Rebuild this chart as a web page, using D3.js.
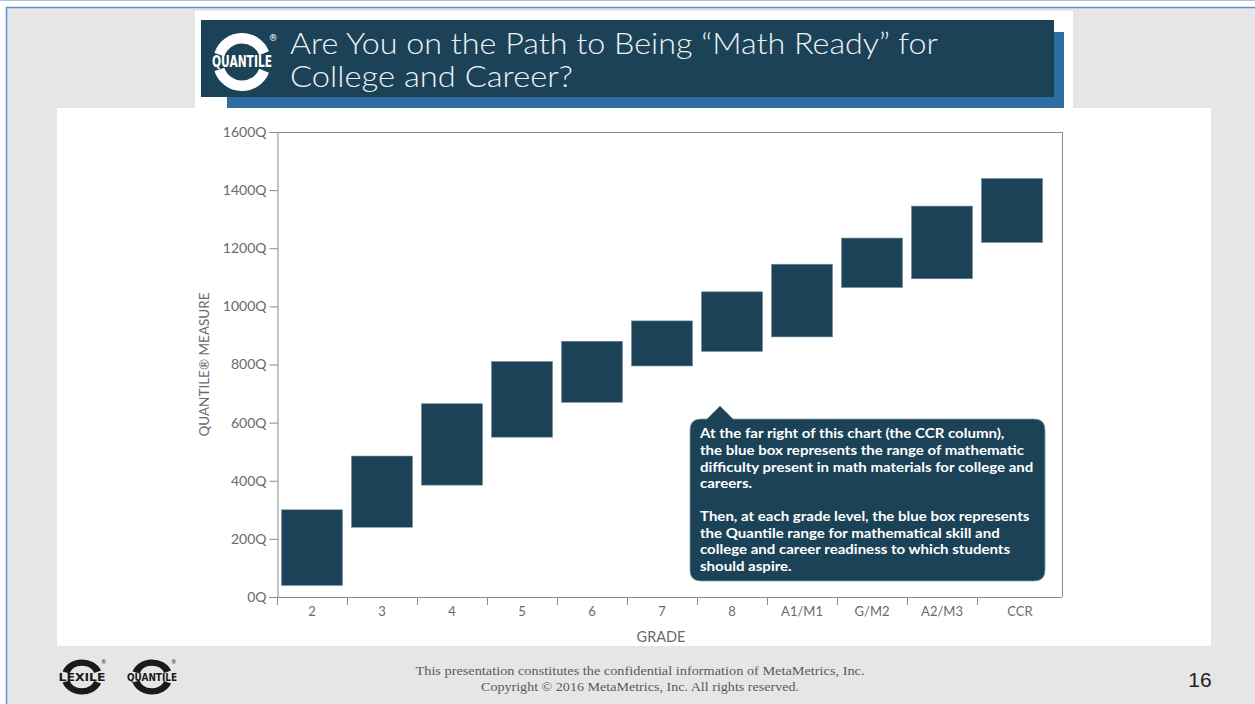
<!DOCTYPE html>
<html>
<head>
<meta charset="utf-8">
<script src="https://cdn.jsdelivr.net/npm/d3@7/dist/d3.min.js"></script>
<style>
  html, body { margin: 0; padding: 0; background: #fff; }
  svg { display: block; }
</style>
</head>
<body>
<svg id="slide" width="1255" height="704"></svg>
<script>
// ---------- data ----------
const grades = ["2", "3", "4", "5", "6", "7", "8", "A1/M1", "G/M2", "A2/M3", "CCR"];
const rangeLow  = [40, 240, 385, 550, 670, 795, 845, 895, 1065, 1095, 1220];
const rangeHigh = [300, 485, 665, 810, 880, 950, 1050, 1145, 1235, 1345, 1440];
const yTicks = [0, 200, 400, 600, 800, 1000, 1200, 1400, 1600];
const titleLines = ["Are You on the Path to Being \u201CMath Ready\u201D for", "College and Career?"];
const yAxisTitle = "QUANTILE\u00AE MEASURE";
const xAxisTitle = "GRADE";
const calloutPara1 = [
  "At the far right of this chart (the CCR column),",
  "the blue box represents the range of mathematic",
  "difficulty present in math materials for college and",
  "careers."
];
const calloutPara2 = [
  "Then, at each grade level, the blue box represents",
  "the Quantile range for mathematical skill and",
  "college and career readiness to which students",
  "should aspire."
];
const footerLines = [
  "This presentation constitutes the confidential information of MetaMetrics, Inc.",
  "Copyright \u00A9 2016 MetaMetrics, Inc. All rights reserved."
];
const slideNumber = "16";

// ---------- styles ----------
const NAVY = "#1b4257";
const BLUE = "#2f6ca1";
const AXIS = "#8a8a8a";
const TXT = "#6a6a6a";

const svg = d3.select("#slide");

// slide background
svg.append("rect").attr("x", 0).attr("y", 0).attr("width", 1255).attr("height", 704).attr("fill", "#ffffff");
svg.append("rect").attr("x", 6.5).attr("y", 7.5).attr("width", 1260).attr("height", 710)
  .attr("fill", "#e6e6e6").attr("stroke", "#5f8fd6").attr("stroke-width", 1.5);
svg.append("line").attr("x1", 0).attr("x2", 1255).attr("y1", 0.5).attr("y2", 0.5)
  .attr("stroke", "#a9c2e8").attr("stroke-width", 1);

// white panels
svg.append("rect").attr("x", 195).attr("y", 11).attr("width", 878).attr("height", 100).attr("fill", "#fff");
svg.append("rect").attr("x", 57).attr("y", 108).attr("width", 1154).attr("height", 538).attr("fill", "#fff");

// header boxes
svg.append("rect").attr("x", 227).attr("y", 32).attr("width", 837).attr("height", 76).attr("fill", BLUE);
svg.append("rect").attr("x", 201).attr("y", 20).attr("width", 853).attr("height", 77).attr("fill", NAVY);

// logo helper
function logo(g, cx, cy, r, sx, color, label, fs, tw) {
  const arcTop = d3.arc().innerRadius(r * 0.64).outerRadius(r).startAngle(-Math.PI * 0.40).endAngle(Math.PI * 0.38);
  const arcBot = d3.arc().innerRadius(r * 0.64).outerRadius(r).startAngle(Math.PI * 0.62).endAngle(Math.PI * 1.40);
  const gg = g.append("g").attr("transform", `translate(${cx},${cy})`);
  const sh = gg.append("g").attr("transform", `scale(${sx},1)`);
  sh.append("path").attr("d", arcTop()).attr("fill", color);
  sh.append("path").attr("d", arcBot()).attr("fill", color);
  gg.append("text").attr("x", 0).attr("y", fs * 0.36).attr("text-anchor", "middle")
    .attr("font-family", "'Liberation Sans Narrow', 'DejaVu Sans Condensed', Roboto, sans-serif")
    .attr("font-weight", 700).attr("font-size", fs).attr("fill", color)
    .attr("textLength", tw).attr("lengthAdjust", "spacingAndGlyphs").text(label);
  gg.append("text").attr("x", r * sx * 0.95).attr("y", -r * 0.72).attr("font-size", r * 0.32)
    .attr("font-family", "Roboto, sans-serif").attr("fill", color).text("\u00AE");
}
logo(svg, 242, 62, 29, 1, "#ffffff", "QUANTILE", 15, 60);

// title
const title = svg.append("text")
  .attr("font-family", "Lato, 'Open Sans', sans-serif").attr("font-weight", 300)
  .attr("font-size", 30).attr("fill", "#eef2f5");
const titleW = [648, 283];
titleLines.forEach((t, i) => {
  title.append("tspan").attr("x", 290).attr("y", 54 + i * 33)
    .attr("textLength", titleW[i]).attr("lengthAdjust", "spacingAndGlyphs").text(t);
});

// ---------- chart ----------
const x0 = 277, x1 = 1062, yTop = 132, yBot = 597;
const x = d3.scaleBand().domain(grades).range([x0, 1047]).paddingInner(0).paddingOuter(0);
const y = d3.scaleLinear().domain([0, 1600]).range([yBot, yTop]);

const chart = svg.append("g");

// frame (top & right)
chart.append("line").attr("x1", x0).attr("x2", x1).attr("y1", yTop + 0.5).attr("y2", yTop + 0.5).attr("stroke", AXIS);
chart.append("line").attr("x1", x1 + 0.5).attr("x2", x1 + 0.5).attr("y1", yTop).attr("y2", yBot).attr("stroke", AXIS);

// y axis
const yAxis = d3.axisLeft(y).tickValues(yTicks).tickFormat(d => d + "Q").tickSize(8).tickPadding(3);
const gy = chart.append("g").attr("transform", `translate(${x0 + 0.5},0)`).call(yAxis);
gy.select(".domain").attr("stroke", AXIS);
gy.selectAll(".tick line").attr("stroke", AXIS);
gy.selectAll("text").attr("font-family", "Lato, sans-serif").attr("font-size", 14).attr("fill", TXT);

// x axis
const xAxis = d3.axisBottom(x).tickSize(0).tickPadding(9);
const gx = chart.append("g").attr("transform", `translate(0,${yBot + 0.5})`).call(xAxis);
gx.select(".domain").attr("d", `M${x0},0H${x1}`).attr("stroke", AXIS);
gx.selectAll("text").attr("font-family", "Lato, sans-serif").attr("font-size", 13).attr("fill", TXT);
gx.selectAll(".tick").filter(d => d === "CCR").select("text").attr("dx", 8);
// tick marks at band boundaries
const boundaries = grades.map(g => x(g));
chart.append("g").selectAll("line").data(boundaries).join("line")
  .attr("x1", d => d + 0.5).attr("x2", d => d + 0.5)
  .attr("y1", yBot).attr("y2", yBot + 8).attr("stroke", AXIS);

// axis titles
chart.append("text").attr("transform", `translate(209,${(yTop + yBot) / 2}) rotate(-90)`)
  .attr("text-anchor", "middle").attr("font-family", "Lato, sans-serif").attr("font-size", 13.5)
  .attr("fill", TXT).text(yAxisTitle);
chart.append("text").attr("x", 661).attr("y", 642).attr("text-anchor", "middle")
  .attr("font-family", "Lato, sans-serif").attr("font-size", 14.5).attr("fill", TXT).text(xAxisTitle);

// range boxes
const rows = grades.map((g, i) => ({ g, lo: rangeLow[i], hi: rangeHigh[i] }));
chart.append("g").selectAll("rect").data(rows).join("rect")
  .attr("x", d => x(d.g) + 4.5)
  .attr("width", x.bandwidth() - 9)
  .attr("y", d => y(d.hi))
  .attr("height", d => y(d.lo) - y(d.hi))
  .attr("fill", NAVY)
  .attr("stroke", "#6d8a9a").attr("stroke-width", 0.6);

// callout
const cx0 = 690, cy0 = 419, cw = 355, ch = 162, rr = 11;
const px = 720;
const callPath = `M${cx0 + rr},${cy0} H${px - 13} L${px},${cy0 - 13} L${px + 13},${cy0} H${cx0 + cw - rr}
  Q${cx0 + cw},${cy0} ${cx0 + cw},${cy0 + rr} V${cy0 + ch - rr} Q${cx0 + cw},${cy0 + ch} ${cx0 + cw - rr},${cy0 + ch}
  H${cx0 + rr} Q${cx0},${cy0 + ch} ${cx0},${cy0 + ch - rr} V${cy0 + rr} Q${cx0},${cy0} ${cx0 + rr},${cy0} Z`;
chart.append("path").attr("d", callPath).attr("fill", NAVY).attr("stroke", "#7f9aa8").attr("stroke-width", 0.8);
const ct = chart.append("text").attr("font-family", "Lato, sans-serif").attr("font-weight", 700)
  .attr("font-size", 14).attr("fill", "#ffffff")
  .attr("transform", "translate(700,0) scale(1.075,1) translate(-700,0)");
calloutPara1.forEach((t, i) => ct.append("tspan").attr("x", 700).attr("y", 438 + i * 16.8).text(t));
calloutPara2.forEach((t, i) => ct.append("tspan").attr("x", 700).attr("y", 521 + i * 16.7).text(t));

// ---------- footer ----------
logo(svg, 82, 677, 17.5, 1.17, "#1a1a1a", "LEXILE", 10, 47);
logo(svg, 152, 677, 17.5, 1.17, "#1a1a1a", "QUANTILE", 10, 50);
const ft = svg.append("text").attr("text-anchor", "middle")
  .attr("font-family", "'Liberation Serif', 'DejaVu Serif', serif").attr("font-size", 13).attr("fill", "#5a5a5a");
const footW = [449, 318];
footerLines.forEach((t, i) => ft.append("tspan").attr("x", 640).attr("y", 675 + i * 16)
  .attr("textLength", footW[i]).attr("lengthAdjust", "spacingAndGlyphs").text(t));
svg.append("text").attr("x", 1200).attr("y", 687).attr("text-anchor", "middle")
  .attr("font-family", "'Liberation Sans', 'Open Sans', sans-serif").attr("font-size", 21).attr("fill", "#222")
  .text(slideNumber);
</script>
</body>
</html>
